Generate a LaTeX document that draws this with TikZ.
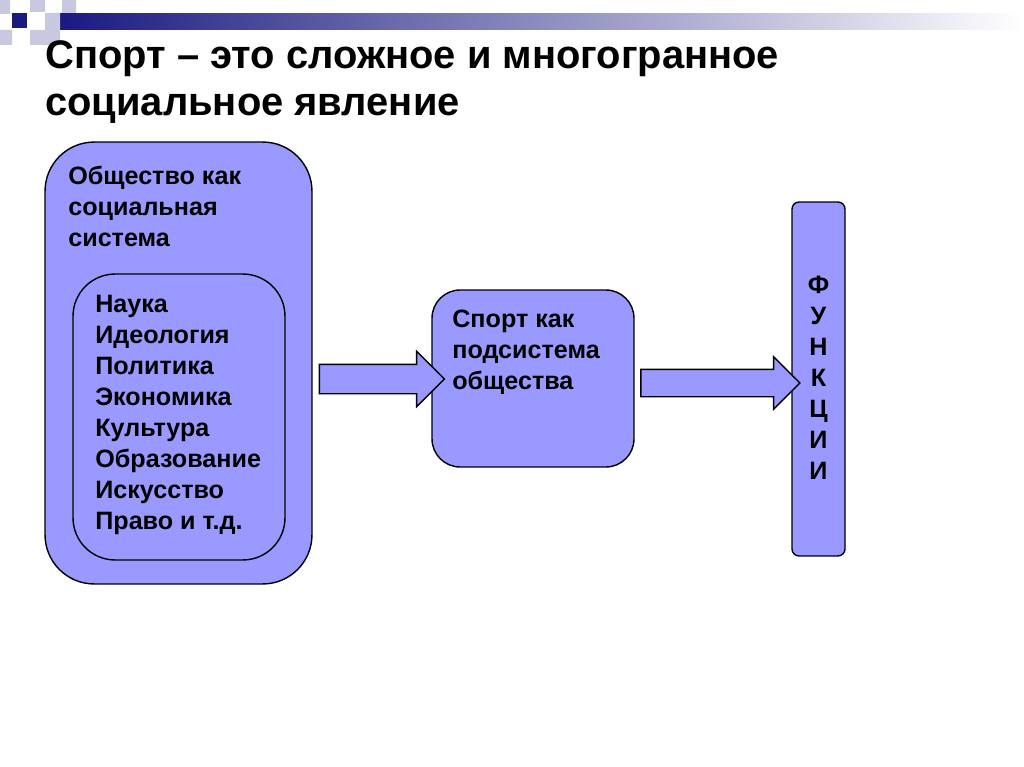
\documentclass[tikz,border=0pt]{standalone}
\usepackage{fontspec}
\setmainfont{Liberation Sans}
\usetikzlibrary{positioning,shapes.arrows}
\definecolor{boxblue}{HTML}{9999FF}
\definecolor{navy}{HTML}{1A1A80}
\definecolor{lightsq}{HTML}{C8C8E0}
\tikzstyle{sbox}=[rectangle, rounded corners=16pt, draw=black, fill=boxblue, thick]
\tikzstyle{flowarrow}=[single arrow, draw=black, fill=boxblue, thick, single arrow head extend=0.26cm]
\tikzstyle{btxt}=[font=\bfseries\fontsize{14.3}{17.6}\selectfont, align=left, inner sep=0pt, anchor=north west]
\begin{document}
\begin{tikzpicture}[x=0.02cm, y=-0.02cm]
\useasboundingbox (0,0) rectangle (1024,767);
% decoration
\shade[left color=navy, right color=white] (60,14) rectangle (1024,30);
\fill[lightsq] (0,0) rectangle (10,14) (30,0) rectangle (45,12) (62,0) rectangle (76,13)
  (45,13) rectangle (60,30) (30,30) rectangle (45,45) (45,30) rectangle (60,45) (0,30) rectangle (12,45);
\fill[navy] (12,13) rectangle (27,28);
% title
\node[btxt, font=\bfseries\fontsize{22.7}{27.2}\selectfont] (TITLE) at (45,40) {Спорт -- это сложное и многогранное\\социальное явление};
% boxes
\node[sbox, rounded corners=28pt, minimum width=5.34cm, minimum height=8.84cm] (SOC) at (178.5,363) {};
\node[sbox, rounded corners=24pt, minimum width=4.24cm, minimum height=5.72cm] (SCI) at (179,417) {};
\node[btxt] (SOCT) at (68,166) {Общество как\\социальная\\система};
\node[btxt] (LIST) at (95,295) {Наука\\Идеология\\Политика\\Экономика\\Культура\\Образование\\Искусство\\Право и т.д.};
\node[sbox, minimum width=4.04cm, minimum height=3.54cm] (SPORT) at (533,378.5) {};
\node[btxt] (SPORTT) at (452,310) {Спорт как\\подсистема\\общества};
\node[draw=black, fill=boxblue, thick, rounded corners=4pt, minimum width=1.06cm, minimum height=7.08cm] (FUNC) at (818.5,379) {};
\node[btxt, anchor=north, align=center] (FUNCT) at (FUNC.center |- 0,276) {Ф\\У\\Н\\К\\Ц\\И\\И};
% arrows
\node[flowarrow, inner sep=0.28cm, minimum height=2.5cm] (A1) at (374.5,379) {};
\node[flowarrow, inner sep=0.26cm, single arrow head extend=0.25cm, minimum height=3.18cm] (A2) at (713.5,383) {};
\end{tikzpicture}
\end{document}
